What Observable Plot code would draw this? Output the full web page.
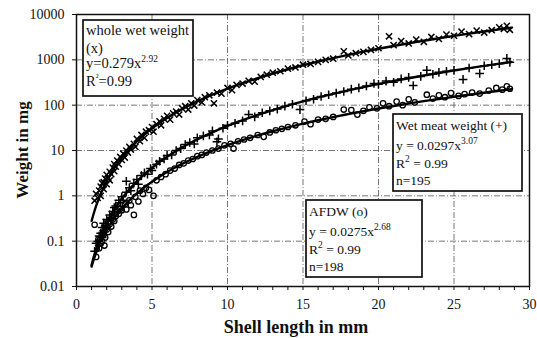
<!DOCTYPE html>
<html>
<head>
<meta charset="utf-8">
<script src="https://cdn.jsdelivr.net/npm/d3@7"></script>
<script src="https://cdn.jsdelivr.net/npm/@observablehq/plot@0.6"></script>
<style>
  html, body { margin: 0; padding: 0; background: #fff; }
  #chart { position: relative; width: 537px; height: 338px; }
  #chart svg, #chart svg text { font-family: 'Liberation Serif', 'DejaVu Serif', serif; }
</style>
</head>
<body>
<div id="chart"></div>
<script>
// ---- data ----
const wholeWet = [[1.2,0.78],[1.3,1.1],[1.4,0.9],[1.5,1.3],[1.6,1.6],[1.6,1.0],[1.7,1.9],[1.8,1.4],[1.8,2.0],[1.9,2.4],[2.0,1.8],[2.0,2.9],[2.1,2.5],[2.2,3.4],[2.2,2.2],[2.3,3.0],[2.4,4.2],[2.5,3.5],[2.5,5.0],[2.6,4.4],[2.7,6.0],[2.8,5.0],[2.9,7.2],[3.0,6.2],[3.1,8.5],[3.2,7.0],[3.3,10],[3.4,9.0],[3.5,12],[3.6,10.5],[3.8,14],[3.9,12],[4.0,18],[4.2,16],[4.3,22],[4.5,19],[4.6,26],[4.8,28],[5.0,33],[5.1,26],[5.3,38],[5.5,44],[5.6,36],[5.8,50],[6.0,58],[6.2,48],[6.4,66],[6.6,72],[6.8,62],[7.0,85],[7.2,95],[7.4,80],[7.6,110],[7.8,98],[8.0,130],[8.3,115],[8.5,150],[8.8,165],[9.1,110],[9.3,190],[9.6,180],[10.0,240],[10.3,215],[10.6,280],[11.0,300],[11.4,345],[11.8,330],[12.2,420],[12.6,470],[13.0,520],[13.5,560],[14.0,640],[14.5,680],[15.0,780],[15.5,810],[16.0,900],[16.5,1000],[17.0,1060],[17.7,1540],[18.0,1250],[18.5,1400],[19.0,1500],[19.5,1650],[20.0,1800],[20.7,3300],[21.0,2100],[21.5,2600],[22.0,2300],[22.5,2800],[23.0,2500],[23.5,3200],[24.0,2900],[24.5,3600],[25.0,3400],[25.5,4200],[26.0,3700],[26.5,4400],[27.0,4000],[27.5,4500],[28.0,5200],[28.3,4800],[28.5,5600],[28.7,4600]];

const wetMeat = [[1.2,0.06],[1.3,0.09],[1.4,0.1],[1.5,0.08],[1.5,0.13],[1.6,0.15],[1.7,0.12],[1.7,0.2],[1.8,0.17],[1.8,0.25],[1.9,0.22],[2.0,0.3],[2.0,0.2],[2.1,0.28],[2.2,0.38],[2.3,0.33],[2.4,0.45],[2.5,0.55],[2.5,0.4],[2.6,0.6],[2.7,0.5],[2.8,0.8],[2.9,0.7],[3.0,0.95],[3.1,0.8],[3.3,2.1],[3.3,1.2],[3.5,1.5],[3.6,1.3],[3.8,1.9],[4.0,2.3],[4.1,1.8],[4.3,2.8],[4.5,3.2],[4.7,3.0],[4.9,4.0],[5.0,3.6],[5.3,5.0],[5.5,5.8],[5.8,6.5],[6.0,7.8],[6.3,8.0],[6.6,10],[6.9,11],[7.2,13.5],[7.5,15],[7.8,14],[8.0,19],[8.4,21],[8.8,22],[9.0,27],[9.3,15.6],[9.4,18],[9.7,31],[10.0,36],[10.5,40],[11.0,45],[11.4,62],[11.8,55],[12.3,68],[12.8,75],[13.3,82],[13.8,95],[14.3,105],[14.8,80],[15.2,125],[15.7,135],[16.2,155],[16.7,170],[17.2,185],[17.7,200],[18.2,225],[18.7,240],[19.2,265],[19.7,300],[20.0,290],[20.5,340],[21.0,320],[21.5,380],[22.0,410],[22.3,272],[22.8,430],[23.2,590],[23.6,480],[24.0,530],[24.5,560],[25.0,590],[25.6,370],[26.0,660],[26.7,500],[27.0,740],[27.5,780],[28.0,820],[28.5,1075],[28.7,880]];

const afdw = [[1.2,0.23],[1.3,0.045],[1.45,0.11],[1.5,0.07],[1.6,0.09],[1.7,0.1],[1.8,0.14],[1.85,0.08],[1.9,0.12],[2.0,0.18],[2.1,0.16],[2.2,0.24],[2.3,0.21],[2.4,0.3],[2.5,0.28],[2.6,0.36],[2.7,0.45],[2.8,0.4],[2.9,0.52],[3.0,0.48],[3.2,0.65],[3.3,0.5],[3.5,0.8],[3.6,0.62],[3.8,0.38],[3.9,0.95],[4.1,0.75],[4.2,1.3],[4.4,1.1],[4.6,1.5],[4.8,1.35],[5.1,1.0],[5.3,2.2],[5.6,2.6],[5.9,3.0],[6.2,3.6],[6.5,4.0],[6.8,4.8],[7.1,5.2],[7.4,6.0],[7.7,6.5],[8.0,7.5],[8.3,8.0],[8.6,9.0],[9.0,10],[9.4,11],[9.8,13],[10.2,14],[10.4,11],[10.7,16],[11.1,17.5],[11.5,19],[12.0,22],[12.4,20],[12.8,25],[13.2,28],[13.6,30],[14.0,33],[14.5,36],[15.1,43.5],[15.5,38],[16.0,48],[16.5,50],[17.0,55],[17.7,80],[18.2,78],[18.6,62],[19.0,75],[19.4,90],[19.9,85],[20.3,110],[20.7,95],[21.2,120],[21.6,100],[22.0,135],[22.4,115],[23.2,170],[23.6,140],[24.0,165],[24.4,150],[24.8,185],[25.3,160],[25.7,175],[26.2,190],[26.7,180],[27.3,210],[27.8,240],[28.2,220],[28.5,260],[28.7,230]];

// fitted trend lines, sampled along the drawn curves
const fitX      = [1, 1.2, 1.4, 1.6, 1.8, 2, 2.2, 2.5, 2.8, 3.2, 3.5, 4, 4.5, 5, 5.5, 6, 6.5, 7, 7.5, 8, 9, 10, 11, 12, 13, 14, 15, 16, 17, 18, 19, 20, 21, 22, 23, 24, 25, 26, 27, 28, 28.8];
const fitWhole  = [0.279, 0.475, 0.745, 1.10, 1.55, 2.11, 2.79, 4.05, 5.64, 8.33, 10.8, 16.0, 22.5, 30.7, 40.5, 52.2, 66, 81.9, 100, 121, 170, 232, 306, 395, 499, 620, 758, 915, 1092, 1291, 1512, 1757, 2024, 2319, 2640, 2991, 3368, 3782, 4221, 4693, 5095];
const fitWet    = [0.0297, 0.052, 0.0834, 0.126, 0.180, 0.249, 0.334, 0.495, 0.70, 1.056, 1.39, 2.09, 3.01, 4.15, 5.57, 7.27, 9.30, 11.7, 14.4, 17.6, 25.2, 34.9, 46.7, 61.1, 78, 98, 121, 148, 178, 212, 251, 293, 341, 393, 450, 513, 581, 656, 737, 823, 897];
const fitAfdw   = [0.0275, 0.0448, 0.0678, 0.0969, 0.133, 0.176, 0.228, 0.320, 0.434, 0.621, 0.790, 1.13, 1.55, 2.05, 2.65, 3.35, 4.15, 5.06, 6.09, 7.23, 9.93, 13.2, 17.0, 21.5, 26.6, 32.4, 39.0, 46.4, 54.6, 63.5, 73.5, 84.3, 96.1, 109, 123, 137, 153, 170, 188, 208, 224];

const xTicks = [0, 5, 10, 15, 20, 25, 30];
const xMinorTicks = d3.range(0, 31);
const yTicks = [0.01, 0.1, 1, 10, 100, 1000, 10000];
const yTickLabels = ["0.01", "0.1", "1", "10", "100", "1000", "10000"];
const xTitle = "Shell length in mm";
const yTitle = "Weight in mg";
const boxWhole = ["whole wet weight", "(x)", ["y=0.279x", "2.92"], ["R", "²", "=0.99"]];
const boxWet = ["Wet meat weight (+)", ["y = 0.0297x", "3.07"], ["R", "2", " = 0.99"], "n=195"];
const boxAfdw = ["AFDW (o)", ["y = 0.0275x", "2.68"], ["R", "2", " = 0.99"], "n=198"];

const toRows = arr => arr.map(([x, y]) => ({x, y}));
const fitRows = ys => fitX.map((x, i) => ({x, y: ys[i]}));

const W = 537, H = 338;
const serif = "'Liberation Serif', 'DejaVu Serif', serif";

const plot = Plot.plot({
  width: W, height: H,
  marginLeft: 76, marginRight: 8, marginTop: 14, marginBottom: 52,
  style: {fontFamily: serif, fontSize: "13px", color: "#111", background: "white"},
  x: {domain: [0, 30]},
  y: {type: "log", domain: [0.01, 10000]},
  marks: [
    Plot.gridX(xTicks.slice(1, -1), {stroke: "#666", strokeOpacity: 1, strokeWidth: 0.9, strokeDasharray: "6,2,1,2"}),
    Plot.gridY(yTicks.slice(1, -1), {stroke: "#666", strokeOpacity: 1, strokeWidth: 0.9, strokeDasharray: "6,2,1,2"}),
    Plot.axisX(xMinorTicks, {tickSize: 4, tickPadding: 9, tickFormat: d => xTicks.includes(d) ? String(d) : "", label: null, fontSize: 14, fontFamily: serif}),
    Plot.axisY(yTicks, {tickSize: 4, tickPadding: 8, tickFormat: d => yTickLabels[yTicks.indexOf(d)], label: null, fontSize: 14, fontFamily: serif}),
    Plot.line(fitRows(fitWhole), {x: "x", y: "y", stroke: "black", strokeWidth: 2.4, curve: "catmull-rom"}),
    Plot.line(fitRows(fitWet), {x: "x", y: "y", stroke: "black", strokeWidth: 2.4, curve: "catmull-rom"}),
    Plot.line(fitRows(fitAfdw), {x: "x", y: "y", stroke: "black", strokeWidth: 2.4, curve: "catmull-rom"}),
    Plot.dot(toRows(wholeWet), {x: "x", y: "y", symbol: "times", r: 2.9, stroke: "black", strokeWidth: 1.5}),
    Plot.dot(toRows(wetMeat), {x: "x", y: "y", symbol: "plus", r: 2.9, stroke: "black", strokeWidth: 1.5}),
    Plot.dot(toRows(afdw), {x: "x", y: "y", symbol: "circle", r: 2.7, stroke: "black", fill: "none", strokeWidth: 1.3}),
    Plot.frame({stroke: "#111", strokeWidth: 1.5})
  ]
});

document.getElementById("chart").appendChild(plot);
const svg = d3.select(plot);

// axis titles
svg.append("text")
  .attr("x", 296).attr("y", 333)
  .attr("text-anchor", "middle")
  .attr("font-family", serif).attr("font-weight", "bold").attr("font-size", 18)
  .attr("fill", "#111")
  .text(xTitle);
svg.append("text")
  .attr("transform", "translate(28,150) rotate(-90)")
  .attr("text-anchor", "middle")
  .attr("font-family", serif).attr("font-weight", "bold").attr("font-size", 17)
  .attr("fill", "#111")
  .text(yTitle);

// annotation boxes
function addBox(lines, left, top, w, h, baselines, fs) {
  const g = svg.append("g").attr("text-anchor", "start");
  g.append("rect").attr("x", left).attr("y", top).attr("width", w).attr("height", h)
    .attr("fill", "white").attr("stroke", "#111").attr("stroke-width", 1.7);
  lines.forEach((ln, i) => {
    const t = g.append("text").attr("x", left + 3).attr("y", baselines[i])
      .attr("text-anchor", "start")
      .attr("font-family", serif).attr("font-size", fs).attr("fill", "#111");
    if (typeof ln === "string") { t.text(ln); return; }
    t.append("tspan").text(ln[0]);
    t.append("tspan").attr("dy", -6).attr("font-size", 9.5).text(ln[1]);
    if (ln.length === 3) t.append("tspan").attr("dy", 6).text(ln[2]);
  });
}
addBox(boxWhole, 83, 20, 110, 76, [35, 53, 68, 86], 14.5);
addBox(boxWet, 393, 114, 129, 77, [130, 150, 168, 185], 13.5);
addBox(boxAfdw, 306, 200, 116, 77, [216, 236, 254, 271], 13.5);
</script>
</body>
</html>
